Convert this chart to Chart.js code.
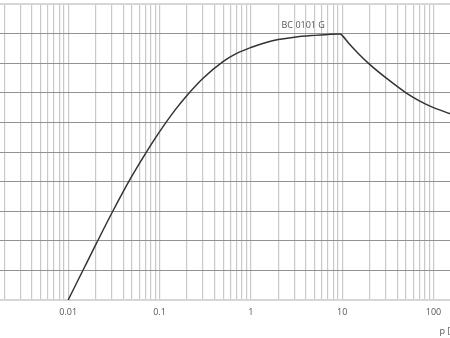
<!DOCTYPE html>
<html>
<head>
<meta charset="utf-8">
<script src="https://cdn.jsdelivr.net/npm/chart.js@4"></script>
<style>
  html, body { margin: 0; padding: 0; background: #fff; overflow: hidden; }
  body { width: 450px; height: 338px; position: relative; }
  /* the reference is a crop of a larger chart, so the canvas spills past the window */
  #wrap { position: absolute; left: -60px; top: 0; width: 528px; height: 338px; }
</style>
</head>
<body>
<div id="wrap"><canvas id="grafica"></canvas></div>
<script>
// Datos de la curva (presión p, valor relativo)
const presion = [0.01, 0.015, 0.02, 0.03, 0.05, 0.07, 0.1, 0.15, 0.2, 0.3, 0.5, 0.7, 1, 1.5, 2, 3, 5, 7, 9.5,
                 10, 12, 15, 20, 30, 50, 70, 100, 150, 200];
const valores = [0, 1.09, 1.86, 2.93, 4.19, 4.94, 5.68, 6.44, 6.91, 7.49, 8.06, 8.33, 8.53, 8.71, 8.8, 8.88, 8.94, 8.97, 8.99,
                 8.94, 8.65, 8.33, 7.96, 7.51, 7.0, 6.73, 6.5, 6.3, 6.17];

// Etiquetas del eje x (solo décadas)
const decadas = [0.001, 0.01, 0.1, 1, 10, 100];
const etiquetasX = ["0.001", "0.01", "0.1", "1", "10", "100"];
const tituloX = "p [bar]";

// Etiqueta de la curva
const nombreCurva = "BC 0101 G";
const posNombre = [2.17, 9.18];

const xMin = 0.001, xMax = 235;
const yMin = 0, yMax = 10;

// Ticks menores 1..9 x 10^k
function ticksLog() {
    const t = [];
    decadas.forEach(d => {
        for (let m = 1; m <= 9; m++) {
            const v = +(m * d).toPrecision(3);
            if (v >= xMin && v <= xMax) t.push({ value: v });
        }
    });
    return t;
}

const etiquetaCurva = {
    id: "etiquetaCurva",
    afterDatasetsDraw(chart) {
        const ctx = chart.ctx;
        const x = chart.scales.x.getPixelForValue(posNombre[0]);
        const y = chart.scales.y.getPixelForValue(posNombre[1]);
        ctx.save();
        ctx.font = "9px 'Open Sans'";
        ctx.fillStyle = "#555";
        ctx.textAlign = "left";
        ctx.textBaseline = "alphabetic";
        ctx.fillText(nombreCurva, x, y);
        ctx.restore();
    }
};

const ctx = document.getElementById("grafica").getContext("2d");
new Chart(ctx, {
    type: "line",
    data: {
        datasets: [{
            label: nombreCurva,
            data: presion.map((p, i) => ({ x: p, y: valores[i] })),
            borderColor: "#333",
            borderWidth: 1.5,
            pointRadius: 0,
            fill: false,
            cubicInterpolationMode: "monotone"
        }]
    },
    options: {
        responsive: true,
        maintainAspectRatio: false,
        animation: false,
        layout: { padding: { top: 4, left: 0, right: 0, bottom: 0 } },
        plugins: { legend: { display: false }, tooltip: { enabled: false } },
        scales: {
            x: {
                type: "logarithmic",
                min: xMin,
                max: xMax,
                afterBuildTicks: scale => { scale.ticks = ticksLog(); },
                afterFit: scale => { scale.height = 38; },
                border: { display: false },
                grid: { color: "#c9c9c9", lineWidth: 1.2, drawTicks: false },
                ticks: {
                    autoSkip: false,
                    maxRotation: 0,
                    padding: 7,
                    color: "#555",
                    font: { family: "Open Sans", size: 9 },
                    callback: function (value) {
                        const i = decadas.findIndex(d => Math.abs(d - value) < d * 1e-6);
                        return i >= 0 ? etiquetasX[i] : "";
                    }
                },
                title: {
                    display: true,
                    text: tituloX,
                    align: "end",
                    color: "#555",
                    font: { family: "Open Sans", size: 9 },
                    padding: { top: 0, bottom: 1 }
                }
            },
            y: {
                min: yMin,
                max: yMax,
                afterFit: scale => { scale.width = 36.8; },
                border: { display: false },
                grid: {
                    drawTicks: false,
                    color: c => (c.tick.value === yMin || c.tick.value === yMax) ? "#d6d6d6" : "#929292",
                    lineWidth: c => (c.tick.value === yMin || c.tick.value === yMax) ? 2 : 1
                },
                ticks: { display: false, stepSize: 1 }
            }
        }
    },
    plugins: [etiquetaCurva]
});
</script>
</body>
</html>
